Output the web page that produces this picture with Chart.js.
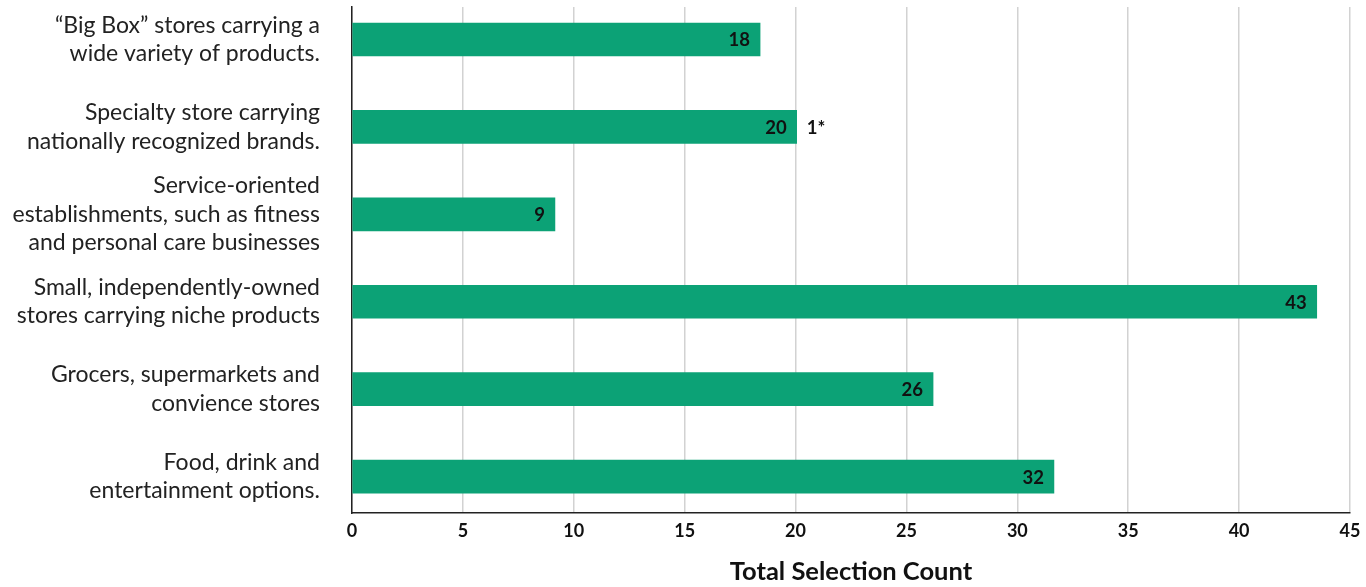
<!DOCTYPE html>
<html>
<head>
<meta charset="utf-8">
<script src="https://cdn.jsdelivr.net/npm/chart.js@4/dist/chart.umd.min.js"></script>
<style>
  html, body { margin: 0; padding: 0; background: #fff; }
  #wrap { width: 1366px; height: 587px; }
</style>
</head>
<body>
<div id="wrap"><canvas id="storeChart"></canvas></div>
<script>
const categories = [
    ['\u201CBig Box\u201D stores carrying a', 'wide variety of products.'],
    ['Specialty store carrying', 'nationally recognized brands.'],
    ['Service-oriented', 'establishments, such as fitness', 'and personal care businesses'],
    ['Small, independently-owned', 'stores carrying niche products'],
    ['Grocers, supermarkets and', 'convience stores'],
    ['Food, drink and', 'entertainment options.']
];
// bar lengths as drawn, and the counts printed on them
const barValues = [18.4, 20.05, 9.15, 43.5, 26.2, 31.65];
const countLabels = ['18', '20', '9', '43', '26', '32'];
const notes = ['', '1*', '', '', '', ''];
const xTicks = [0, 5, 10, 15, 20, 25, 30, 35, 40, 45];

const FONT = 'Lato, "Noto Sans", sans-serif';

const barLabels = {
    id: 'barLabels',
    afterDatasetsDraw(chart) {
        const ctx = chart.ctx;
        const meta = chart.getDatasetMeta(0);
        ctx.save();
        ctx.font = 'bold 18.5px ' + FONT;
        ctx.fillStyle = '#111';
        ctx.textBaseline = 'middle';
        meta.data.forEach(function (bar, i) {
            ctx.textAlign = 'right';
            ctx.fillText(countLabels[i], bar.x - 10, bar.y + 1);
            if (notes[i]) {
                ctx.textAlign = 'left';
                ctx.fillText(notes[i], bar.x + 10, bar.y + 1);
            }
        });
        ctx.restore();
    }
};

new Chart(document.getElementById('storeChart'), {
    type: 'bar',
    data: {
        datasets: [{
            data: barValues.map(function (v, i) { return { x: v, y: i }; }),
            backgroundColor: '#0ca276',
            barThickness: 33
        }]
    },
    options: {
        indexAxis: 'y',
        responsive: true,
        maintainAspectRatio: false,
        animation: false,
        layout: { padding: { top: 7, right: 16, left: 0, bottom: 0 } },
        plugins: {
            legend: { display: false },
            tooltip: { enabled: false }
        },
        scales: {
            x: {
                type: 'linear',
                min: xTicks[0],
                max: xTicks[xTicks.length - 1],
                afterBuildTicks: function (scale) {
                    scale.ticks = xTicks.map(function (v) { return { value: v }; });
                },
                grid: { color: '#d2d2d2', lineWidth: 1.5, drawTicks: false },
                border: { display: true, color: '#222', width: 1.5 },
                ticks: {
                    padding: 7,
                    color: '#111',
                    font: { family: FONT, size: 18, weight: 'bold' }
                },
                title: {
                    display: true,
                    text: 'Total Selection Count',
                    color: '#111',
                    font: { family: FONT, size: 25.5, weight: 'bold' },
                    padding: { top: 0, bottom: 0 }
                },
                afterFit: function (scale) {
                    scale.height = 74;
                    scale.paddingLeft = 0;
                    scale.paddingRight = 0;
                }
            },
            y: {
                type: 'linear',
                reverse: true,
                offset: false,
                bounds: 'data',
                min: -0.372,
                max: 5.417,
                afterBuildTicks: function (scale) {
                    scale.ticks = categories.map(function (c, i) { return { value: i }; });
                },
                grid: { display: false, drawTicks: false },
                border: { display: true, color: '#222', width: 1.5 },
                ticks: {
                    autoSkip: false,
                    padding: 32,
                    color: '#222',
                    font: { family: FONT, size: 23, lineHeight: 1.24 },
                    callback: function (v) { return categories[v] || ''; }
                },
                afterFit: function (scale) {
                    scale.width = 352;
                    scale.paddingTop = 0;
                    scale.paddingBottom = 0;
                }
            }
        }
    },
    plugins: [barLabels]
});
</script>
</body>
</html>
